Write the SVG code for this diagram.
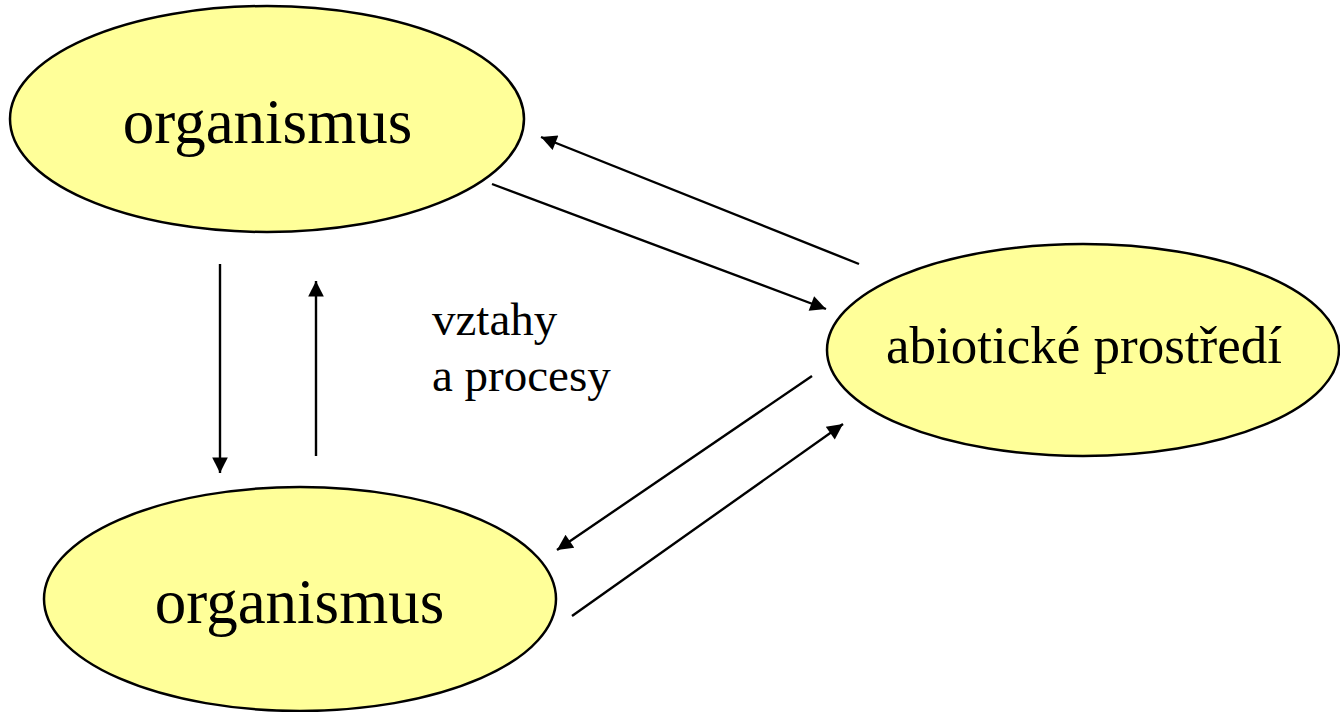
<svg xmlns="http://www.w3.org/2000/svg" width="1340" height="712" viewBox="0 0 1340 712">
<style>
.node{fill:#FFFF99;stroke:#000;stroke-width:2.5}
.lbl{font-family:"Liberation Serif","Times New Roman",serif;fill:#000}
.big{font-size:63px}
.mid{font-size:53px}
.sm{font-size:47px}
.conn{stroke:#000;stroke-width:2.4;fill:none;marker-end:url(#ah)}
</style>
<defs>
<marker id="ah" viewBox="0 0 10 10" refX="10" refY="5" markerWidth="7.5" markerHeight="6.5" markerUnits="strokeWidth" orient="auto">
<path d="M0,0 L10,5 L0,10 z" fill="#000"/>
</marker>
</defs>
<rect width="1340" height="712" fill="#fff"/>
<g id="org1">
<ellipse class="node" cx="267" cy="119" rx="257" ry="113"/>
<text class="lbl big" x="267.5" y="143" text-anchor="middle">organismus</text>
</g>
<g id="org2">
<ellipse class="node" cx="300" cy="599" rx="256" ry="112"/>
<text class="lbl big" x="299.5" y="623" text-anchor="middle">organismus</text>
</g>
<g id="abio">
<ellipse class="node" cx="1083" cy="350" rx="256" ry="106"/>
<text class="lbl mid" x="1084" y="363" text-anchor="middle">abiotické prostředí</text>
</g>
<g id="label">
<text class="lbl sm" x="432" y="335">vztahy</text>
<text class="lbl sm" x="432" y="391">a procesy</text>
</g>
<g id="connectors">
<line class="conn" x1="859" y1="264" x2="541" y2="137"/>
<line class="conn" x1="492" y1="184" x2="826" y2="309"/>
<line class="conn" x1="812" y1="376" x2="557" y2="550"/>
<line class="conn" x1="572" y1="616" x2="843" y2="424"/>
<line class="conn" x1="220" y1="264" x2="220" y2="473"/>
<line class="conn" x1="316" y1="456" x2="316" y2="281"/>
</g>
</svg>
